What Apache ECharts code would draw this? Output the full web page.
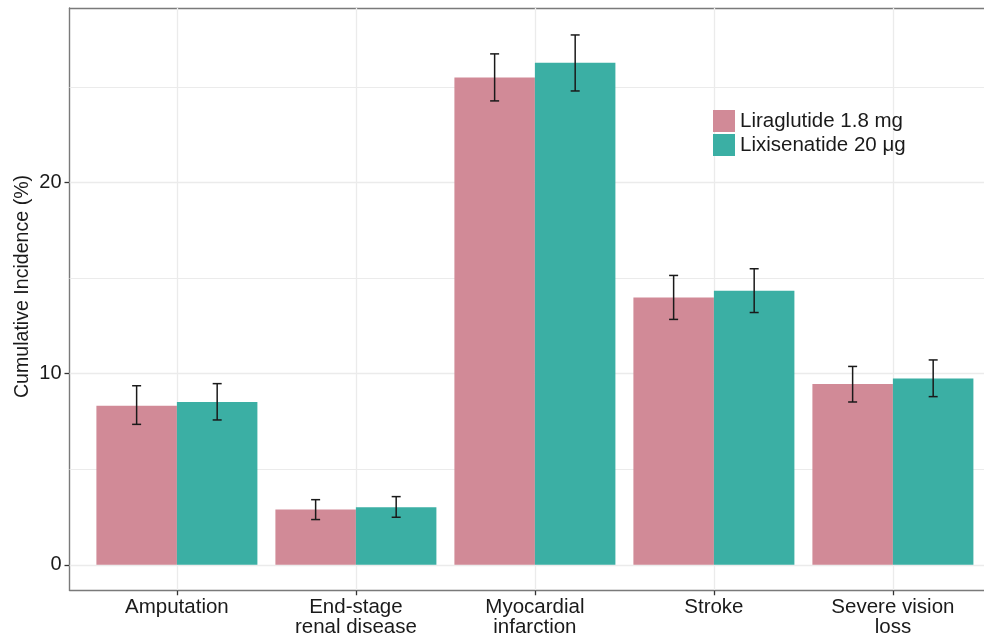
<!DOCTYPE html>
<html>
<head>
<meta charset="utf-8">
<script src="https://cdn.jsdelivr.net/npm/echarts@6/dist/echarts.min.js"></script>
<style>html,body{margin:0;padding:0;background:#fff}#c{width:984px;height:638px}</style>
</head>
<body>
<div id="c"></div>
<script>
// ---- data ----
var categories = ['Amputation', 'End-stage\nrenal disease', 'Myocardial\ninfarction', 'Stroke', 'Severe vision\nloss'];
var seriesNames = ['Liraglutide 1.8 mg', 'Lixisenatide 20 \u03bcg'];
var liraValues = [8.32, 2.89, 25.49, 13.99, 9.46];
var liraLow    = [7.35, 2.37, 24.27, 12.84, 8.52];
var liraHigh   = [9.37, 3.41, 26.73, 15.14, 10.38];
var lixiValues = [8.52, 3.01, 26.27, 14.34, 9.75];
var lixiLow    = [7.58, 2.49, 24.79, 13.20, 8.80];
var lixiHigh   = [9.48, 3.57, 27.72, 15.49, 10.72];
var yTickValues = [0, 10, 20];
var yGridValues = [0, 5, 10, 15, 20, 25];

// ---- build ----
var FONT = 'Liberation Sans, Arial, Helvetica, sans-serif';
var positions = categories.map(function (c, i) { return i + 1; });
function pairs(vals) { return vals.map(function (v, i) { return [positions[i], v]; }); }
function errs(lo, hi) { return lo.map(function (l, i) { return [positions[i], l, hi[i]]; }); }

function errRender(offset) {
  return function (params, api) {
    var x = api.value(0) + offset;
    var p1 = api.coord([x, api.value(1)]);
    var p2 = api.coord([x, api.value(2)]);
    var w = 4.5;
    var st = { stroke: '#1a1a1a', lineWidth: 1.5 };
    return {
      type: 'group',
      children: [
        { type: 'line', shape: { x1: p1[0], y1: p1[1], x2: p2[0], y2: p2[1] }, style: st },
        { type: 'line', shape: { x1: p1[0] - w, y1: p1[1], x2: p1[0] + w, y2: p1[1] }, style: st },
        { type: 'line', shape: { x1: p2[0] - w, y1: p2[1], x2: p2[0] + w, y2: p2[1] }, style: st }
      ]
    };
  };
}

var chart = echarts.init(document.getElementById('c'), null, { renderer: 'canvas' });
var gridLines = yGridValues.map(function (v) {
  return { yAxis: v, lineStyle: { color: '#ebebeb', type: 'solid', width: (v % 10 === 0) ? 1.3 : 1 } };
}).concat(positions.map(function (v) {
  return { xAxis: v, lineStyle: { color: '#ebebeb', type: 'solid', width: 1.3 } };
}));

var borderStyle = { color: '#7a7a7a', width: 1.4 };

chart.setOption({
  animation: false,
  textStyle: { fontFamily: FONT },
  grid: { left: 69.5, top: 8, right: 0, bottom: 47.3, containLabel: false },
  legend: {
    data: seriesNames,
    orient: 'vertical', left: 713, top: 110, padding: 0,
    itemWidth: 22, itemHeight: 22, itemGap: 2,
    icon: 'rect',
    textStyle: { fontSize: 20.5, color: '#1a1a1a', fontFamily: FONT }
  },
  xAxis: [{
    type: 'value', min: 0.4, max: 0.4 + 914.5 / 179,
    axisLine: { show: true, onZero: false, lineStyle: borderStyle },
    splitLine: { show: false },
    axisTick: { show: true, customValues: positions, length: 5, lineStyle: { color: '#333', width: 1.3 } },
    axisLabel: {
      customValues: positions, fontSize: 20.5, color: '#1a1a1a', margin: 6.5, lineHeight: 20.5,
      formatter: function (v) { return categories[Math.round(v) - 1] || ''; }
    }
  }, {
    type: 'value', position: 'top', min: 0.4, max: 0.4 + 914.5 / 179,
    axisLine: { show: true, onZero: false, lineStyle: borderStyle },
    axisTick: { show: false }, axisLabel: { show: false }, splitLine: { show: false }
  }],
  yAxis: {
    type: 'value', min: -1.328, max: 29.13,
    axisLine: { show: true, onZero: false, lineStyle: borderStyle },
    splitLine: { show: false },
    axisTick: { show: true, customValues: yTickValues, length: 5, lineStyle: { color: '#333', width: 1.3 } },
    axisLabel: { customValues: yTickValues, fontSize: 20, color: '#1a1a1a', margin: 8 }
  },
  graphic: [{
    type: 'text', x: 23, y: 286.5, rotation: Math.PI / 2,
    style: { text: 'Cumulative Incidence (%)', fontSize: 19.6, fill: '#1a1a1a', fontFamily: FONT, align: 'center', verticalAlign: 'middle' }
  }],
  series: [
    {
      type: 'line', data: [], z: 1, silent: true,
      markLine: { silent: true, symbol: 'none', z: 1, label: { show: false }, emphasis: { disabled: true }, data: gridLines }
    },
    { name: seriesNames[0], type: 'bar', data: pairs(liraValues), barWidth: 80.5, barGap: '0%', z: 3, itemStyle: { color: '#d18a97' } },
    { name: seriesNames[1], type: 'bar', data: pairs(lixiValues), barWidth: 80.5, barGap: '0%', z: 3, itemStyle: { color: '#3bafa4' } },
    { type: 'custom', data: errs(liraLow, liraHigh), renderItem: errRender(-0.225), z: 5, encode: { x: 0, y: [1, 2] }, silent: true },
    { type: 'custom', data: errs(lixiLow, lixiHigh), renderItem: errRender(0.225), z: 5, encode: { x: 0, y: [1, 2] }, silent: true }
  ]
});
</script>
</body>
</html>
